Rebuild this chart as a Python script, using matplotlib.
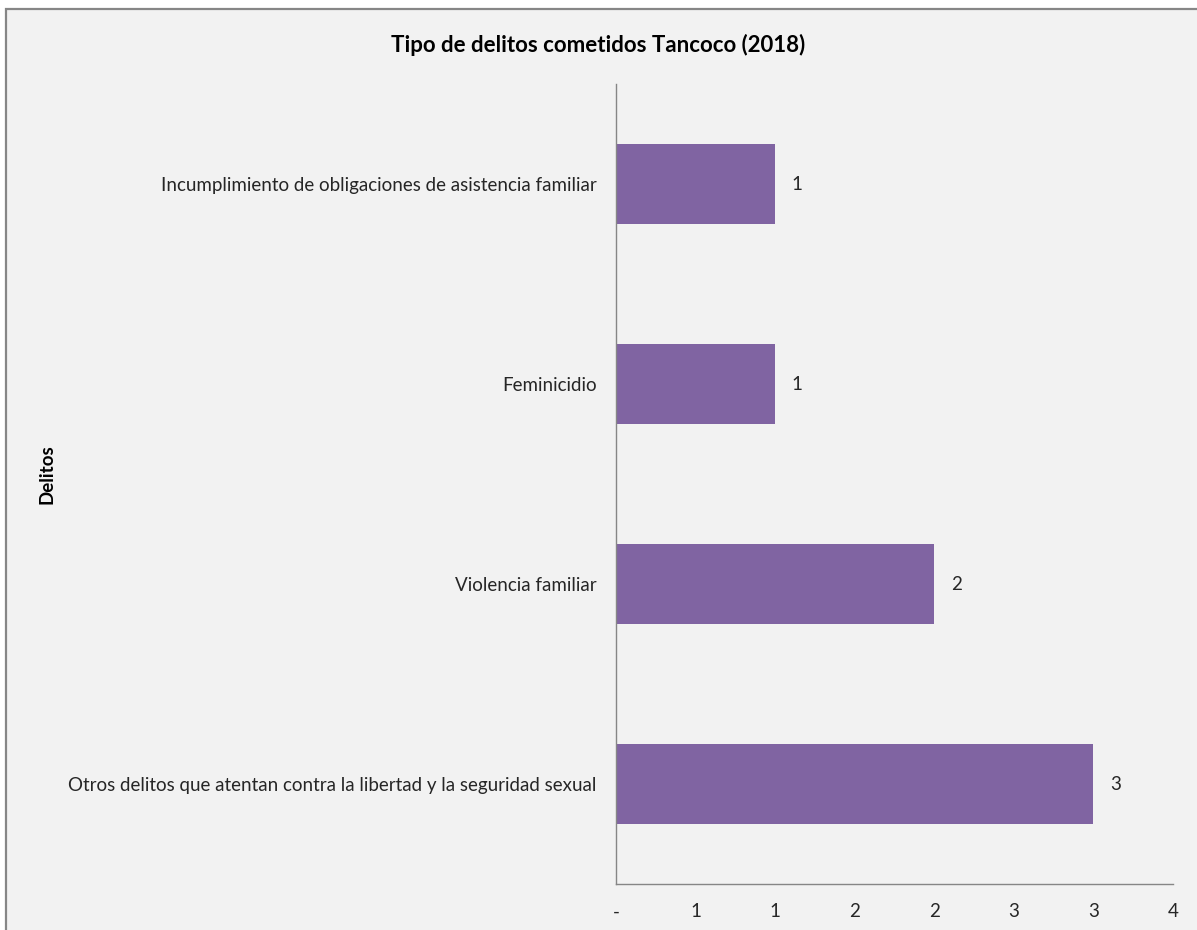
import matplotlib.pyplot as plt
from matplotlib.patches import Rectangle

delitos = [
    "Otros delitos que atentan contra la libertad y la seguridad sexual",
    "Violencia familiar",
    "Feminicidio",
    "Incumplimiento de obligaciones de asistencia familiar",
]
casos = [3, 2, 1, 1]
xticks = [0, 0.5, 1, 1.5, 2, 2.5, 3, 3.5]
xlabels = ["-", "1", "1", "2", "2", "3", "3", "4"]

plt.rcParams['font.family'] = ['Lato', 'DejaVu Sans']

W, H = 1197, 930
fig = plt.figure(figsize=(W / 100, H / 100), dpi=100, facecolor='white')
# chart area background + frame (right/bottom edges run off the image)
fig.patches.append(Rectangle((6 / W, -0.05), 1.1, 1 - 9 / H + 0.05,
                             transform=fig.transFigure, fc='#f2f2f2',
                             ec='#868686', lw=1.6, zorder=-10))

ax = fig.add_axes([616 / W, 46 / H, 557 / W, 800 / H])
ax.set_facecolor('none')
ypos = range(len(delitos))
ax.barh(ypos, casos, height=0.4, color='#8064a2')
for y, v in zip(ypos, casos):
    ax.text(v + 0.14, y, str(v), va='center', ha='center', fontsize=13.5, color='#262626')

ax.set_ylim(-0.5, 3.5)
ax.set_xlim(0, 3.5)
ax.set_xticks(xticks)
ax.set_xticklabels(xlabels)
ax.set_yticks(list(ypos))
ax.set_yticklabels(delitos)
ax.tick_params(length=0, labelsize=13.5, colors='#262626')
ax.tick_params(axis='x', pad=14)
ax.tick_params(axis='y', pad=14)
for s in ['top', 'right']:
    ax.spines[s].set_visible(False)
for s in ['left', 'bottom']:
    ax.spines[s].set_color('#868686')
    ax.spines[s].set_linewidth(1)

fig.text(598 / W, 1 - 45 / H, "Tipo de delitos cometidos Tancoco (2018)",
         ha='center', va='center', fontsize=16, fontweight='bold')
fig.text(47 / W, 1 - 474 / H, "Delitos", rotation=90, ha='center', va='center',
         fontsize=13.5, fontweight='bold')

fig.savefig('out.png', dpi=100, facecolor='white')
